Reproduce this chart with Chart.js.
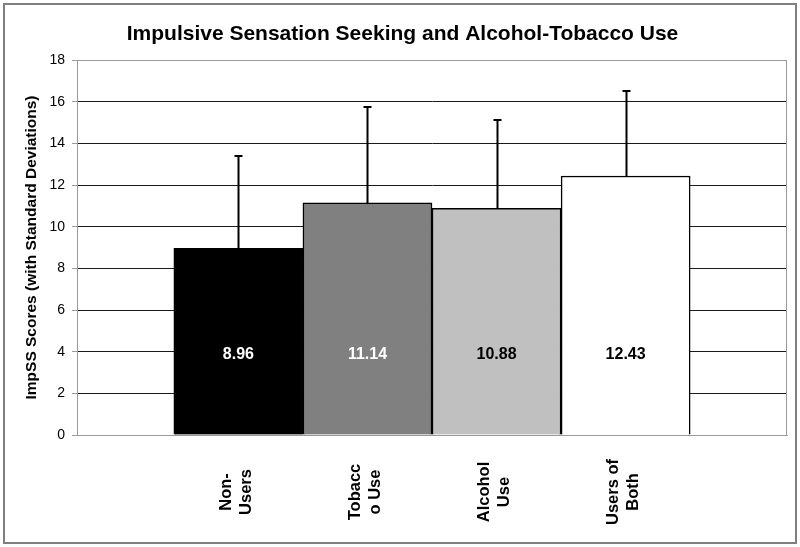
<!DOCTYPE html>
<html>
<head>
<meta charset="utf-8">
<script src="https://cdn.jsdelivr.net/npm/chart.js@4.4.1/dist/chart.umd.min.js"></script>
<style>
  html, body { margin: 0; padding: 0; background: #fff; }
  #wrap { width: 800px; height: 547px; }
</style>
</head>
<body>
<div id="wrap"><canvas id="impssChart"></canvas></div>
<script>
// ImpSS means and SDs by group
let groupLabels = [["Non-", "Users"], ["Tobacc", "o Use"], ["Alcohol", "Use"], ["Users of", "Both"]];
let meanScores = [8.96, 11.14, 10.88, 12.43];
let sdScores = [4.42, 4.60, 4.24, 4.07];
let yTickValues = [0, 2, 4, 6, 8, 10, 12, 14, 16, 18];

let barColors = ['#000000', '#808080', '#c0c0c0', '#ffffff'];
let valueTextColors = ['#ffffff', '#ffffff', '#000000', '#000000'];
const labelLevel = 3.85; // where the value text sits (y units)
const FONT = "'Liberation Sans', Arial, sans-serif";

// outer frame + plot border
const framePlugin = {
    id: 'frame',
    beforeDraw(chart) {
        const c = chart.ctx;
        c.save();
        c.fillStyle = '#fff';
        c.fillRect(0, 0, chart.width, chart.height);
        c.strokeStyle = '#7f7f7f';
        c.lineWidth = 2;
        c.strokeRect(4, 4, 792, 539);
        c.restore();
    },
    beforeDatasetsDraw(chart) {
        const a = chart.chartArea;
        const c = chart.ctx;
        c.save();
        c.strokeStyle = '#9a9a9a';
        c.lineWidth = 1;
        c.strokeRect(a.left + 0.5, a.top + 0.5, a.right - a.left - 1, a.bottom - a.top);
        c.restore();
    }
};

// SD whiskers, value text, rotated group names
const extrasPlugin = {
    id: 'extras',
    afterDatasetsDraw(chart) {
        const c = chart.ctx;
        const xs = chart.scales.x, ys = chart.scales.y;
        c.save();
        c.strokeStyle = '#000';
        c.lineWidth = 2;
        meanScores.forEach((m, i) => {
            const x = Math.round(xs.getPixelForValue(i)) + 0.5;
            const y0 = ys.getPixelForValue(m);
            const y1 = Math.round(ys.getPixelForValue(m + sdScores[i]));
            c.beginPath();
            c.moveTo(x, y0);
            c.lineTo(x, y1);
            c.moveTo(x - 4, y1);
            c.lineTo(x + 4, y1);
            c.stroke();
        });
        c.font = 'bold 16px ' + FONT;
        c.textAlign = 'center';
        c.textBaseline = 'middle';
        meanScores.forEach((m, i) => {
            c.fillStyle = valueTextColors[i];
            c.fillText(m.toFixed(2), xs.getPixelForValue(i), ys.getPixelForValue(labelLevel));
        });
        c.font = 'bold 16.5px ' + FONT;
        c.fillStyle = '#000';
        const midY = 492;
        groupLabels.forEach((lines, i) => {
            const x = xs.getPixelForValue(i);
            c.save();
            c.translate(x - 2, midY);
            c.rotate(-Math.PI / 2);
            const lh = 20;
            lines.forEach((t, k) => {
                c.fillText(t, 0, (k - (lines.length - 1) / 2) * lh);
            });
            c.restore();
        });
        c.restore();
    }
};

const ctx = document.getElementById('impssChart').getContext('2d');
const impssChart = new Chart(ctx, {
    type: 'bar',
    data: {
        datasets: [{
            label: 'ImpSS',
            data: meanScores.map((v, i) => ({ x: i, y: v })),
            backgroundColor: barColors,
            borderColor: '#000',
            borderWidth: 1.5,
            barPercentage: 1,
            categoryPercentage: 1
        }]
    },
    options: {
        responsive: true,
        maintainAspectRatio: false,
        animation: false,
        layout: {
            padding: { left: 18, right: 13, top: 0, bottom: 8 }
        },
        scales: {
            x: {
                type: 'linear',
                offset: false,
                min: -1.25,
                max: 4.25,
                afterBuildTicks: (scale) => {
                    scale.ticks = groupLabels.map((_, i) => ({ value: i }));
                },
                afterFit: (scale) => { scale.height = 547 - 435 - 8; },
                ticks: { display: false },
                grid: { display: false, offset: false },
                border: { display: true, color: '#9a9a9a' }
            },
            y: {
                min: 0,
                max: 18,
                afterBuildTicks: (scale) => {
                    scale.ticks = yTickValues.map(v => ({ value: v }));
                },
                afterFit: (scale) => { scale.width = 77 - 18; },
                ticks: {
                    color: '#000',
                    padding: 7,
                    font: { family: FONT, size: 14 }
                },
                grid: {
                    color: (c) => (c.tick && (c.tick.value === 0 || c.tick.value === 18)) ? '#9a9a9a' : '#1a1a1a',
                    tickColor: '#9a9a9a',
                    tickLength: 5,
                    lineWidth: 1
                },
                border: { color: '#9a9a9a' },
                title: {
                    display: true,
                    text: 'ImpSS Scores (with Standard Deviations)',
                    color: '#000',
                    font: { family: FONT, size: 15.5, weight: 'bold' },
                    padding: { top: 4, bottom: 4 }
                }
            }
        },
        plugins: {
            legend: { display: false },
            tooltip: { enabled: false },
            title: {
                display: true,
                text: 'Impulsive Sensation Seeking and Alcohol-Tobacco Use',
                color: '#000',
                font: { family: FONT, size: 21, weight: 'bold' },
                padding: { top: 22, bottom: 12.8 }
            }
        }
    },
    plugins: [framePlugin, extrasPlugin]
});
</script>
</body>
</html>
